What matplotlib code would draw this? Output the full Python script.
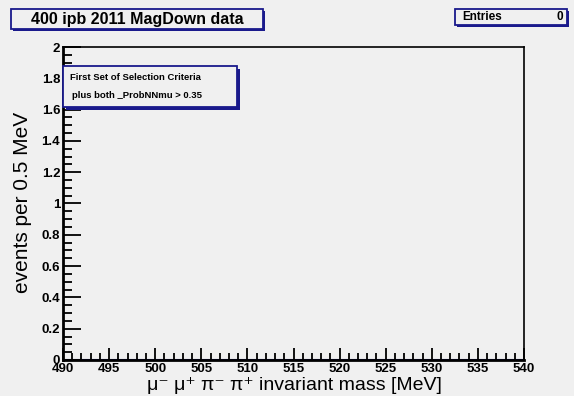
import matplotlib
matplotlib.use('Agg')
import matplotlib.pyplot as plt
from matplotlib.patches import Rectangle
from matplotlib.ticker import MultipleLocator, FuncFormatter
import numpy as np

# histogram: 0.5 MeV bins from 490 to 540, nothing passed the cuts
edges = np.arange(490.0, 540.01, 0.5)
counts = np.zeros(len(edges) - 1)
n_entries = 0

title = '400 ipb 2011 MagDown data'
legend_lines = ['First Set of Selection Criteria', 'plus both _ProbNNmu > 0.35']
xlabel = 'μ⁻ μ⁺ π⁻ π⁺ invariant mass [MeV]'
ylabel = 'events per 0.5 MeV'

plt.rcParams['font.family'] = ['Liberation Sans', 'DejaVu Sans']

W, H = 574, 396
bg = '#f0f0f0'
navy = '#1a1a8c'

fig = plt.figure(figsize=(W / 100, H / 100), dpi=100, facecolor=bg)

ax = fig.add_axes([63 / W, 1 - 360 / H, (524 - 63) / W, (360 - 47) / H])
ax.set_facecolor(bg)
ax.stairs(counts, edges, color=navy, lw=1.5)
ax.set_xlim(490, 540)
ax.set_ylim(0, 2)

ax.xaxis.set_major_locator(MultipleLocator(5))
ax.xaxis.set_minor_locator(MultipleLocator(1))
ax.yaxis.set_major_locator(MultipleLocator(0.2))
ax.yaxis.set_minor_locator(MultipleLocator(0.05))
ax.tick_params(which='both', direction='in', top=False, right=False, width=1.3, colors='black')
ax.tick_params(which='major', length=13, labelsize=9.5, pad=2)
ax.tick_params(which='minor', length=6.5)
ax.tick_params(axis='x', which='major', length=9, pad=2)
ax.tick_params(axis='x', which='minor', length=5)
fmt = FuncFormatter(lambda v, p: f'{v:g}')
ax.xaxis.set_major_formatter(fmt)
ax.yaxis.set_major_formatter(fmt)
for lab in ax.get_xticklabels() + ax.get_yticklabels():
    lab.set_fontweight('bold')
for side in ['top', 'right']:
    ax.spines[side].set_linewidth(1.2)
ax.spines['left'].set_linewidth(2)
ax.spines['bottom'].set_linewidth(2)

ax.set_xlabel(xlabel, fontsize=14)
ax.xaxis.label.set_horizontalalignment('right')
ax.xaxis.label.set_verticalalignment('center')
ax.xaxis.set_label_coords((442 - 63) / (524 - 63), -25 / 313)

ax.set_ylabel(ylabel, fontsize=15)
ax.yaxis.label.set_horizontalalignment('right')
ax.yaxis.label.set_verticalalignment('center')
ax.yaxis.set_label_coords(-40 / 461, (360 - 112) / 313)

# overlay in pixel coordinates for the title / stats / legend boxes
ov = fig.add_axes([0, 0, 1, 1], facecolor='none')
ov.set_xlim(0, W)
ov.set_ylim(H, 0)
ov.axis('off')


def framed_box(x0, y0, x1, y1, shadow=2):
    ov.add_patch(Rectangle((x0 + shadow, y0 + shadow), x1 - x0, y1 - y0,
                           facecolor=navy, edgecolor='none'))
    ov.add_patch(Rectangle((x0, y0), x1 - x0, y1 - y0,
                           facecolor=bg, edgecolor=navy, lw=1.3))


framed_box(11, 9, 263, 29)
ov.text(137, 19.5, title, ha='center', va='center', fontsize=11.5, fontweight='bold')

framed_box(455, 9, 567, 25)
ov.text(462, 17, 'Entries', ha='left', va='center', fontsize=8.5, fontweight='bold')
ov.text(563, 17, str(n_entries), ha='right', va='center', fontsize=8.5, fontweight='bold')

framed_box(63, 66, 237, 107, shadow=3)
ov.text(70, 77, legend_lines[0], ha='left', va='center', fontsize=6.8, fontweight='bold')
ov.text(72, 96, legend_lines[1], ha='left', va='center', fontsize=6.8, fontweight='bold')

fig.savefig('out.png', dpi=100, facecolor=bg)
